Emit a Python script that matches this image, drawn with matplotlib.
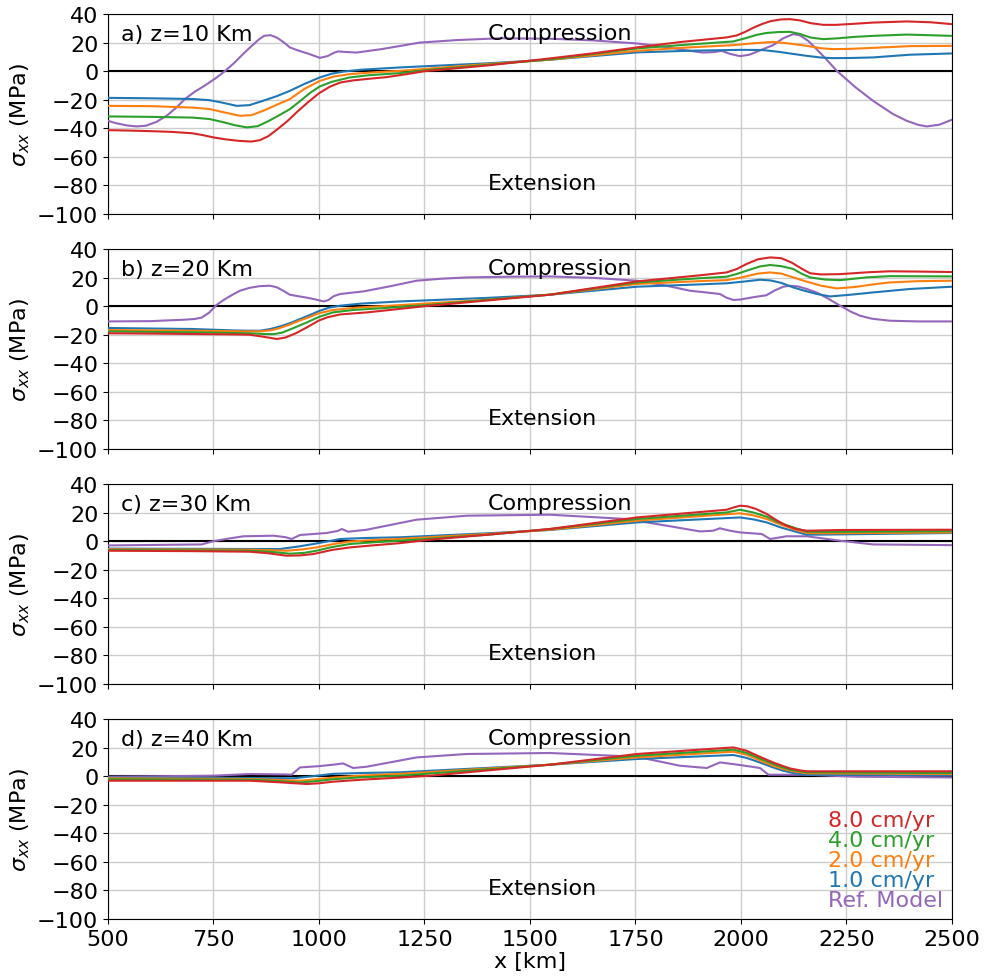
import matplotlib
matplotlib.use("Agg")
import matplotlib.pyplot as plt

# ---------------- data (x in km, sigma_xx in MPa) ----------------
# Panel a) z=10 Km
ref_a_x = [500, 520, 545, 568, 590, 615, 640, 662, 682, 705, 730, 755, 777, 800, 820, 840, 858, 870, 885, 900, 915, 931, 950, 975, 1002, 1020, 1035, 1045, 1065, 1089, 1150, 1239, 1330, 1429, 1547, 1650, 1753, 1820, 1879, 1910, 1935, 1954, 1975, 1998, 2020, 2045, 2076, 2100, 2124, 2140, 2160, 2179, 2200, 2227, 2270, 2313, 2360, 2393, 2420, 2440, 2470, 2500]
ref_a_y = [-34.8, -36.5, -38, -38.7, -38.2, -35.5, -31, -25.5, -19.6, -14.5, -10, -5, 0, 6, 12, 17.5, 22.3, 24.7, 25.2, 23.5, 20.5, 16.6, 14.5, 12.2, 9.3, 10.5, 12.8, 13.8, 13.4, 13, 15.5, 20, 21.8, 23, 22.7, 21.5, 19.4, 17, 14.2, 13, 13.3, 14.2, 12, 10.5, 11.5, 14.5, 18.2, 23, 25.9, 25, 21, 15.4, 9, 0.2, -11, -20.8, -30, -34.8, -37.6, -38.7, -37.5, -34]
v8_a_x = [500, 550, 600, 650, 700, 725, 750, 780, 810, 840, 860, 880, 900, 925, 950, 975, 1000, 1025, 1050, 1080, 1120, 1160, 1210, 1251, 1400, 1547, 1650, 1753, 1860, 1966, 1990, 2010, 2030, 2050, 2070, 2095, 2116, 2140, 2165, 2195, 2225, 2260, 2313, 2393, 2450, 2500]
v8_a_y = [-41.3, -41.6, -42, -42.5, -43.5, -44.8, -46.4, -47.8, -48.8, -49.3, -48.3, -45.5, -41, -35, -28, -21.5, -15.5, -11, -8, -6.5, -5.3, -4.2, -2, 0, 4, 8.9, 12.5, 16.6, 20.5, 23.6, 25, 27.5, 30.5, 33, 35, 36.2, 36.4, 35.5, 33.6, 32.4, 32.4, 33, 34, 34.8, 34.2, 32.9]
v4_a_x = [500, 600, 700, 740, 770, 800, 829, 855, 880, 905, 931, 955, 980, 1002, 1030, 1073, 1120, 1192, 1263, 1400, 1547, 1753, 1870, 1982, 2010, 2037, 2060, 2090, 2116, 2140, 2165, 2195, 2230, 2270, 2313, 2393, 2500]
v4_a_y = [-31.7, -32, -32.5, -33.5, -35.5, -37.8, -39.4, -38.5, -35, -31, -26.6, -21, -15, -10.7, -7.5, -4.4, -2.8, -1.4, 0.9, 4.5, 8.2, 15.9, 18.5, 20.8, 23, 25.4, 26.7, 27.4, 27.5, 26, 23.5, 22.4, 23, 24, 24.7, 25.6, 24.7]
v2_a_x = [500, 600, 700, 740, 770, 813, 840, 870, 900, 931, 965, 1002, 1035, 1073, 1130, 1192, 1400, 1547, 1753, 1870, 1982, 2030, 2076, 2110, 2156, 2190, 2218, 2260, 2313, 2400, 2500]
v2_a_y = [-24.3, -24.5, -25.5, -26.5, -28.5, -31.3, -30.8, -27.5, -23.5, -19.6, -12.5, -6.8, -3.8, -2.1, -0.8, 0.2, 5, 8, 14.2, 16.5, 18.2, 19.5, 20.5, 19.5, 17.7, 16, 15.4, 15.6, 16.3, 17.5, 17.7]
v1_a_x = [500, 600, 700, 740, 770, 805, 835, 865, 900, 931, 965, 1002, 1030, 1060, 1100, 1192, 1400, 1547, 1753, 1880, 1998, 2050, 2090, 2120, 2156, 2190, 2218, 2260, 2313, 2400, 2500]
v1_a_y = [-18.7, -19, -19.5, -20.3, -22, -24.3, -23.8, -21, -17.5, -13.8, -9, -4.4, -1.8, -0.2, 1, 2.6, 5.5, 8, 13.1, 14.3, 14.9, 14.8, 13.5, 12.2, 10.7, 9.5, 9.1, 9.2, 9.6, 11.5, 12.4]

# Panel b) z=20 Km
ref_b_x = [500, 600, 680, 705, 722, 740, 757, 775, 795, 813, 835, 860, 884, 900, 915, 931, 950, 970, 990, 1011, 1022, 1035, 1050, 1105, 1170, 1231, 1290, 1350, 1450, 1547, 1650, 1753, 1820, 1879, 1920, 1950, 1965, 1982, 2000, 2030, 2060, 2080, 2100, 2116, 2135, 2156, 2180, 2205, 2235, 2260, 2282, 2310, 2353, 2420, 2500]
ref_b_y = [-10.7, -10.5, -9.5, -9, -8, -4.5, 0.8, 4.5, 8, 10.8, 12.8, 14, 14.3, 13.2, 10.8, 8, 7, 6, 4.8, 3.3, 4.2, 7, 8.5, 10.3, 14, 17.8, 19.2, 20.1, 20.6, 20.8, 19.8, 17.8, 14.5, 10.8, 9.5, 8.5, 6, 4.3, 4.7, 6.3, 7.6, 11, 13.6, 14.3, 13.8, 12, 9.5, 5.5, 0.3, -3.8, -6.7, -8.8, -10.2, -10.7, -10.7]
v8_b_x = [500, 600, 700, 800, 836, 870, 900, 920, 945, 971, 1000, 1020, 1050, 1113, 1180, 1251, 1400, 1547, 1753, 1900, 1966, 1990, 2013, 2040, 2069, 2095, 2120, 2145, 2164, 2190, 2235, 2300, 2353, 2420, 2500]
v8_b_y = [-19, -19.2, -19.5, -19.8, -20, -21.5, -23, -22, -19, -14.9, -10, -7.8, -5.8, -4.4, -2.3, 0, 4, 8, 17.3, 21.5, 23.6, 26, 29.5, 32.8, 34.1, 33.6, 30.5, 26, 23, 22.2, 22.4, 23.7, 24.4, 24.2, 23.9]
v4_b_x = [500, 700, 836, 870, 892, 912, 940, 971, 1000, 1033, 1080, 1152, 1263, 1400, 1547, 1753, 1900, 1966, 1990, 2013, 2045, 2069, 2095, 2124, 2145, 2164, 2200, 2235, 2300, 2353, 2500]
v4_b_y = [-17.7, -18.3, -19, -19.5, -19.6, -18.6, -15.3, -11.4, -7.5, -4.4, -2.7, -1.4, 0.9, 4.5, 8, 16.6, 19.5, 20.6, 22.5, 24.8, 27.8, 28.8, 28, 26, 22.5, 20.1, 18.6, 18.2, 20.2, 21, 20.8]
v2_b_x = [500, 700, 836, 860, 884, 905, 930, 955, 971, 1000, 1033, 1090, 1152, 1400, 1547, 1753, 1900, 1966, 2000, 2040, 2069, 2095, 2120, 2148, 2190, 2227, 2270, 2320, 2353, 2420, 2500]
v2_b_y = [-16.7, -17.2, -17.7, -17.6, -17, -15.5, -13, -10, -8.3, -5, -2.7, -1, 0, 4.5, 8, 15.5, 17.5, 18.2, 20, 22.8, 23.6, 22.8, 20.5, 17.8, 14.3, 12.4, 13.4, 15.5, 16.6, 17.5, 17.8]
v1_b_x = [500, 700, 800, 836, 860, 885, 910, 935, 955, 980, 1002, 1025, 1050, 1100, 1192, 1400, 1547, 1753, 1900, 1966, 2010, 2045, 2070, 2095, 2124, 2150, 2180, 2211, 2260, 2313, 2400, 2500]
v1_b_y = [-15.3, -16, -17, -17.2, -17.2, -16, -14, -11.5, -9, -6, -3.2, -1, 0.3, 1.8, 3.3, 5.8, 8, 13.6, 15.2, 16, 17.3, 18.5, 18, 16.3, 13.1, 10.8, 8.5, 6.8, 8, 9.6, 12, 13.6]

# Panel c) z=30 Km
ref_c_x = [500, 722, 750, 790, 821, 892, 920, 935, 955, 1018, 1045, 1054, 1069, 1113, 1231, 1350, 1547, 1729, 1824, 1903, 1934, 1950, 1974, 1998, 2049, 2069, 2108, 2156, 2235, 2313, 2500]
ref_c_y = [-3, -2.3, 0, 2, 3.4, 3.8, 2.8, 1.5, 4.3, 5.7, 7.2, 8.5, 6.6, 8, 15, 17.8, 18.5, 15.5, 10.8, 6.8, 7.3, 9, 7.3, 6.1, 5, 1.5, 3.4, 3.4, 0.3, -2.3, -2.8]
v8_c_x = [500, 700, 836, 880, 923, 955, 987, 1010, 1030, 1073, 1130, 1192, 1263, 1400, 1547, 1753, 1900, 1966, 1985, 1998, 2015, 2035, 2061, 2085, 2108, 2130, 2156, 2235, 2500]
v8_c_y = [-6.7, -7, -7.4, -8.5, -10.2, -10, -9, -7.5, -6.2, -4.4, -2.9, -1.4, 1, 4.5, 8.5, 16.6, 20.3, 22, 23.8, 24.8, 24.4, 22.6, 19, 14.5, 10.8, 8.5, 7.3, 7.8, 8]
v4_c_x = [500, 836, 890, 931, 965, 994, 1030, 1073, 1130, 1192, 1400, 1547, 1753, 1966, 1998, 2030, 2061, 2090, 2124, 2156, 2200, 2500]
v4_c_y = [-6.2, -6.7, -7.6, -8.8, -8.2, -6.7, -4.2, -2, -0.8, 0.3, 4.5, 8.5, 15.5, 20.1, 22, 20, 17.1, 13, 9.6, 6.6, 6.5, 7]
v2_c_x = [500, 836, 880, 923, 960, 994, 1035, 1073, 1130, 1192, 1400, 1547, 1753, 1998, 2030, 2061, 2095, 2124, 2156, 2200, 2500]
v2_c_y = [-5.7, -6, -6.3, -6.7, -5.8, -4.4, -2, -0.3, 0.8, 1.6, 5, 8, 14.3, 19.5, 18, 15.5, 11.5, 8.5, 5.7, 5.5, 6.1]
v1_c_x = [500, 836, 908, 950, 987, 1020, 1050, 1110, 1192, 1400, 1547, 1753, 1998, 2030, 2061, 2095, 2130, 2156, 2200, 2500]
v1_c_y = [-5.2, -5.5, -5.5, -3.8, -2, -0.2, 1.5, 2.2, 2.7, 5.5, 7.8, 13.1, 16.6, 15.2, 13.1, 9.5, 6.6, 4.5, 4.6, 5.7]

# Panel d) z=40 Km
ref_d_x = [500, 750, 836, 920, 935, 955, 1000, 1033, 1057, 1081, 1113, 1231, 1350, 1547, 1753, 1855, 1919, 1950, 1998, 2045, 2065, 2156, 2274, 2500]
ref_d_y = [-0.4, 0.3, 1.5, 1.2, 1, 6.1, 7, 8, 8.9, 5.7, 6.6, 13.1, 15.5, 16.2, 13.6, 7.3, 5.7, 9.6, 7.8, 5.7, 1, 1, -0.4, -0.9]
v8_d_x = [500, 836, 900, 971, 1000, 1033, 1100, 1192, 1263, 1547, 1753, 1900, 1982, 2013, 2045, 2076, 2100, 2116, 2140, 2156, 2500]
v8_d_y = [-3.2, -3.2, -4.2, -5.5, -5, -3.9, -2.5, -1, 0.3, 8, 15.5, 18.5, 20.1, 17.8, 13.5, 9.6, 7, 5.4, 4, 3.4, 3.4]
v4_d_x = [500, 836, 900, 955, 990, 1033, 1100, 1192, 1547, 1753, 1900, 1982, 2013, 2045, 2076, 2100, 2116, 2156, 2500]
v4_d_y = [-2.2, -2.5, -3.4, -4.4, -3.6, -2.2, -0.8, 0.3, 8, 14.3, 17, 18.5, 16.3, 12.3, 8.5, 6, 4.5, 2.7, 2.2]
v2_d_x = [500, 836, 900, 955, 990, 1033, 1100, 1192, 1547, 1753, 1900, 1982, 2013, 2045, 2076, 2100, 2124, 2156, 2500]
v2_d_y = [-1.5, -2, -2.6, -3.2, -2.3, -1, 0.4, 1.6, 8, 13.1, 15.7, 17.1, 15, 11, 7.3, 5, 3.4, 2, 1.5]
v1_d_x = [500, 836, 940, 980, 1033, 1100, 1192, 1547, 1753, 1900, 1982, 2013, 2045, 2076, 2100, 2124, 2156, 2500]
v1_d_y = [-1, -1.3, -1.5, -0.2, 1.6, 2.2, 2.7, 8, 12, 13.8, 14.8, 12.8, 9.5, 6.1, 3.8, 2.2, 1, 0.7]

panel_labels = ["a) z=10 Km", "b) z=20 Km", "c) z=30 Km", "d) z=40 Km"]
series_labels = ["8.0 cm/yr", "4.0 cm/yr", "2.0 cm/yr", "1.0 cm/yr", "Ref. Model"]
x_ticks = [500, 750, 1000, 1250, 1500, 1750, 2000, 2250, 2500]
y_ticks = [-100, -80, -60, -40, -20, 0, 20, 40]

panels = [
    (ref_a_x, ref_a_y, v1_a_x, v1_a_y, v2_a_x, v2_a_y, v4_a_x, v4_a_y, v8_a_x, v8_a_y),
    (ref_b_x, ref_b_y, v1_b_x, v1_b_y, v2_b_x, v2_b_y, v4_b_x, v4_b_y, v8_b_x, v8_b_y),
    (ref_c_x, ref_c_y, v1_c_x, v1_c_y, v2_c_x, v2_c_y, v4_c_x, v4_c_y, v8_c_x, v8_c_y),
    (ref_d_x, ref_d_y, v1_d_x, v1_d_y, v2_d_x, v2_d_y, v4_d_x, v4_d_y, v8_d_x, v8_d_y),
]

C_REF, C1, C2, C4, C8 = "#9467bd", "#1f77b4", "#ff7f0e", "#2ca02c", "#d62728"

plt.rcParams["font.family"] = ["DejaVu Sans"]
plt.rcParams["font.size"] = 16

fig = plt.figure(figsize=(9.84, 9.78), dpi=100)
W, H = 984, 978
tops = [15, 250, 485, 720]
axes = []
for i, top in enumerate(tops):
    ax = fig.add_axes([108 / W, 1 - (top + 200) / H, (952 - 108) / W, 200 / H])
    axes.append(ax)
    rx, ry, x1, y1, x2, y2, x4, y4, x8, y8 = panels[i]
    ax.grid(True, color="#cccccc", lw=1.0)
    ax.set_axisbelow(True)
    ax.axhline(0, color="black", lw=1.5, zorder=2)
    ax.plot(rx, ry, color=C_REF, lw=1.5, zorder=3)
    ax.plot(x1, y1, color=C1, lw=1.5, zorder=3)
    ax.plot(x2, y2, color=C2, lw=1.5, zorder=3)
    ax.plot(x4, y4, color=C4, lw=1.5, zorder=3)
    ax.plot(x8, y8, color=C8, lw=1.5, zorder=3)
    ax.set_xlim(500, 2500)
    ax.set_ylim(-100, 40)
    ax.set_xticks(x_ticks)
    ax.set_yticks(y_ticks)
    ax.set_ylabel(r"$\sigma_{xx}$ (MPa)", fontsize=16)
    ax.yaxis.set_label_coords(-0.09, 0.5)
    ax.tick_params(labelsize=16)
    ax.text(0.015, 0.9, panel_labels[i], transform=ax.transAxes, fontsize=16,
            ha="left", va="center")
    ax.text(1400, 26.5, "Compression", fontsize=16, ha="left", va="center")
    ax.text(1400, -78.5, "Extension", fontsize=16, ha="left", va="center")
    if i < 3:
        ax.tick_params(labelbottom=False)
    else:
        ax.set_xlabel("x [km]", fontsize=16, labelpad=2)

# colored-text legend in panel d
ax = axes[3]
for j, (lab, col) in enumerate(zip(series_labels, [C8, C4, C2, C1, C_REF])):
    ax.text(2205, -31.0 - j * 14.0, lab, color=col, fontsize=16, ha="left", va="center")

fig.savefig("out.png", dpi=100)
